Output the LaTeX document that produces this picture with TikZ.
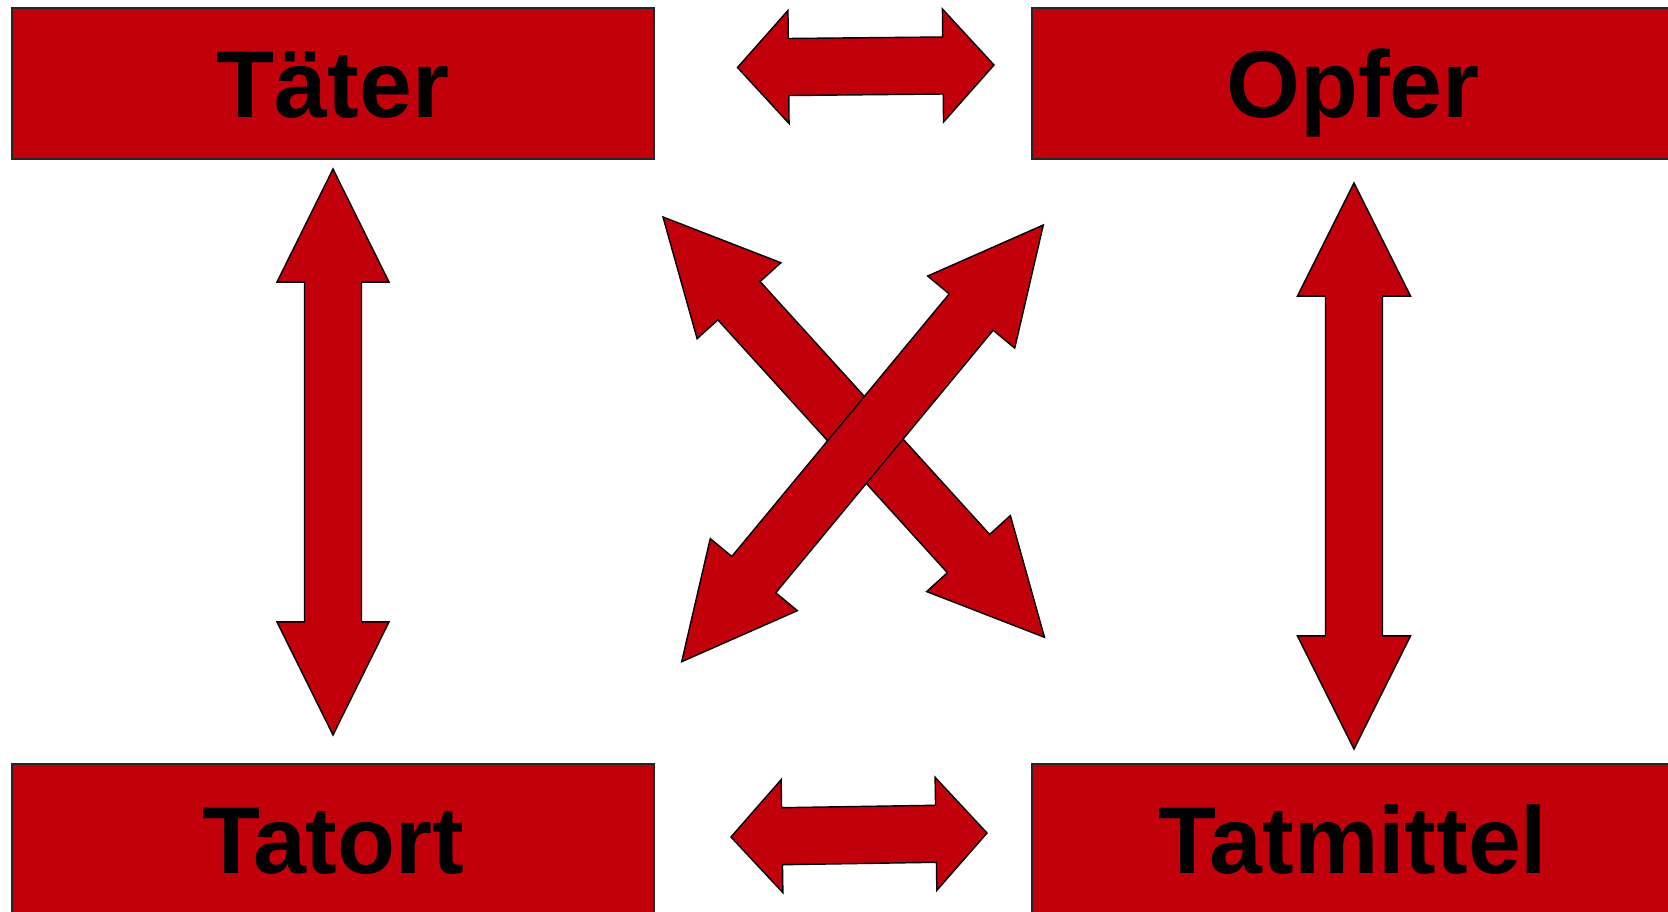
\documentclass[tikz,border=0pt]{standalone}
\usepackage{fontspec}
\setmainfont{Liberation Sans}
\usetikzlibrary{calc}

\definecolor{tatred}{RGB}{194,0,11}

% double block arrow: tip, tip, head length, head half width, shaft half width
\newcommand{\dblarr}[5]{%
  \filldraw[arr] (#1)
    -- ($(#1)!#3!(#2)!#4!90:(#2)$) -- ($(#1)!#3!(#2)!#5!90:(#2)$)
    -- ($(#2)!#3!(#1)!#5!-90:(#1)$) -- ($(#2)!#3!(#1)!#4!-90:(#1)$)
    -- (#2)
    -- ($(#2)!#3!(#1)!#4!90:(#1)$) -- ($(#2)!#3!(#1)!#5!90:(#1)$)
    -- ($(#1)!#3!(#2)!#5!-90:(#2)$) -- ($(#1)!#3!(#2)!#4!-90:(#2)$)
    -- cycle;}

\begin{document}
\begin{tikzpicture}[
  x=0.01cm, y=-0.01cm,
  box/.style={rectangle, draw=black!85, fill=tatred, line width=0.4pt,
              minimum width=6.42cm, minimum height=1.51cm, inner sep=0pt,
              text height=0.68cm, text depth=0pt,
              font=\bfseries\fontsize{27}{32}\selectfont},
  arr/.style={fill=tatred, draw=black, line width=0.4pt, line join=miter}
]
  \clip (0,0) rectangle (1668,912);

  \node[box] (taeter)    at (333,83.5)   {Täter};
  \node[box] (opfer)     at (1353,83.5)  {Opfer};
  \node[box] (tatort)    at (333,839.5)  {Tatort};
  \node[box] (tatmittel) at (1353,839.5) {Tatmittel};

  % arrow tips
  \coordinate (top-l) at (737.5,67.5);
  \coordinate (top-r) at (994,65);
  \coordinate (bot-l) at (731,837);
  \coordinate (bot-r) at (987,833);
  \coordinate (lft-t) at (333,169);
  \coordinate (lft-b) at (333,735);
  \coordinate (rgt-t) at (1354,183);
  \coordinate (rgt-b) at (1354,749);
  \coordinate (dgA-1) at (663,217);
  \coordinate (dgA-2) at (1044.5,637.3);
  \coordinate (dgB-1) at (681.7,661.7);
  \coordinate (dgB-2) at (1043.3,225);

  \dblarr{top-l}{top-r}{0.51cm}{0.565cm}{0.285cm}
  \dblarr{bot-l}{bot-r}{0.51cm}{0.565cm}{0.285cm}
  \dblarr{lft-t}{lft-b}{1.13cm}{0.56cm}{0.285cm}
  \dblarr{rgt-t}{rgt-b}{1.13cm}{0.565cm}{0.285cm}
  \dblarr{dgA-1}{dgA-2}{1.13cm}{0.565cm}{0.285cm}
  \dblarr{dgB-1}{dgB-2}{1.13cm}{0.565cm}{0.285cm}
\end{tikzpicture}
\end{document}
